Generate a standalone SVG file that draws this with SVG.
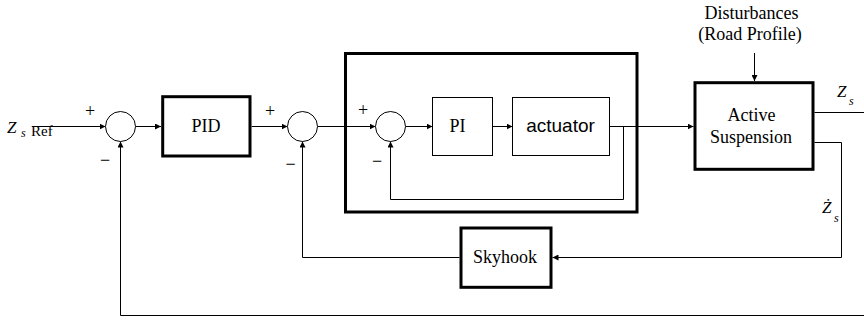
<svg xmlns="http://www.w3.org/2000/svg" width="864" height="320" viewBox="0 0 864 320">
<style>
.bg{fill:#fff}
.thick{fill:#fff;stroke:#000;stroke-width:3}
.frame{fill:none;stroke:#000;stroke-width:3}
.thin{fill:#fff;stroke:#000;stroke-width:1}
.sum{fill:#fff;stroke:#000;stroke-width:1}
.wire{fill:none;stroke:#000;stroke-width:1}
.arr{marker-end:url(#ah)}
.lbl{font-family:"Liberation Serif","Times New Roman",serif;font-size:18px;fill:#000;text-anchor:middle}
.sans{font-family:"Liberation Sans",Arial,sans-serif;font-size:19px;fill:#000;text-anchor:middle}
.sign{font-family:"Liberation Serif","Times New Roman",serif;font-size:18px;fill:#000;text-anchor:middle}
.it{font-family:"Liberation Serif","Times New Roman",serif;font-style:italic;fill:#000}
.rm{font-family:"Liberation Serif","Times New Roman",serif;fill:#000}
</style>
<defs>
<marker id="ah" markerUnits="userSpaceOnUse" markerWidth="6" markerHeight="6" refX="6" refY="3" orient="auto">
<path d="M0,0 L6,3 L0,6 z" fill="#000"/>
</marker>
</defs>
<rect class="bg" x="0" y="0" width="864" height="320"/>

<g id="connectors">
<path class="wire arr" d="M32,126.5 H105.5"/>
<path class="wire arr" d="M135.5,126.5 H161"/>
<path class="wire arr" d="M251.5,126.5 H287.5"/>
<path class="wire arr" d="M317.5,126.5 H375.5"/>
<path class="wire arr" d="M405.5,126.5 H432.5"/>
<path class="wire arr" d="M492.5,126.5 H512.5"/>
<path class="wire arr" d="M609.5,126.5 H693.5"/>
<path class="wire arr" d="M623.5,126.5 V199.5 H390.5 V141.5"/>
<path class="wire arr" d="M754.5,53 V81"/>
<path class="wire" d="M814.5,112.5 H864"/>
<path class="wire arr" d="M814.5,142.5 H841.5 V257.5 H552.5"/>
<path class="wire arr" d="M459.5,257.5 H302.5 V141.5"/>
<path class="wire arr" d="M864,315.5 H120.5 V141.5"/>
</g>

<g id="outer-loop-box">
<rect class="frame" x="345.5" y="53.5" width="291.5" height="158.5"/>
</g>

<g id="sum1">
<circle class="sum" cx="120.5" cy="126.5" r="15"/>
<text class="sign" x="90" y="117">+</text>
<text class="sign" x="105" y="166">−</text>
</g>

<g id="pid">
<rect class="thick" x="162.7" y="96.7" width="87.3" height="59.3"/>
<text class="lbl" x="206" y="131.7">PID</text>
</g>

<g id="sum2">
<circle class="sum" cx="302.5" cy="126.5" r="15"/>
<text class="sign" x="270" y="117">+</text>
<text class="sign" x="290.5" y="170">−</text>
</g>

<g id="sum3">
<circle class="sum" cx="390.5" cy="126.5" r="15"/>
<text class="sign" x="363" y="116">+</text>
<text class="sign" x="377" y="167">−</text>
</g>

<g id="pi">
<rect class="thin" x="432.5" y="97.5" width="60" height="58"/>
<text class="lbl" x="457.5" y="131.7">PI</text>
</g>

<g id="actuator">
<rect class="thin" x="512.5" y="97.5" width="97" height="58"/>
<text class="sans" x="560.5" y="131.7">actuator</text>
</g>

<g id="active-suspension">
<rect class="thick" x="695" y="82.7" width="118" height="86.6"/>
<text class="lbl" x="751.5" y="121">Active</text>
<text class="lbl" x="751" y="142.7">Suspension</text>
</g>

<g id="disturbances">
<text class="lbl" x="751.5" y="19.3">Disturbances</text>
<text class="lbl" x="750" y="40">(Road Profile)</text>
</g>

<g id="skyhook">
<rect class="thick" x="461" y="228" width="90" height="59.3"/>
<text class="lbl" x="505" y="263.3">Skyhook</text>
</g>

<g id="zs-ref">
<text class="it" x="7" y="133.3" font-size="17">Z</text>
<text class="it" x="21" y="137" font-size="12">s</text>
<text class="rm" x="31" y="135.5" font-size="15">Ref</text>
</g>

<g id="zs-out">
<text class="it" x="837" y="96.7" font-size="17">Z</text>
<text class="it" x="849" y="105" font-size="12">s</text>
</g>

<g id="zs-dot">
<text class="it" x="822" y="213.3" font-size="17">Ż</text>
<text class="it" x="834" y="222" font-size="12">s</text>
</g>
</svg>
